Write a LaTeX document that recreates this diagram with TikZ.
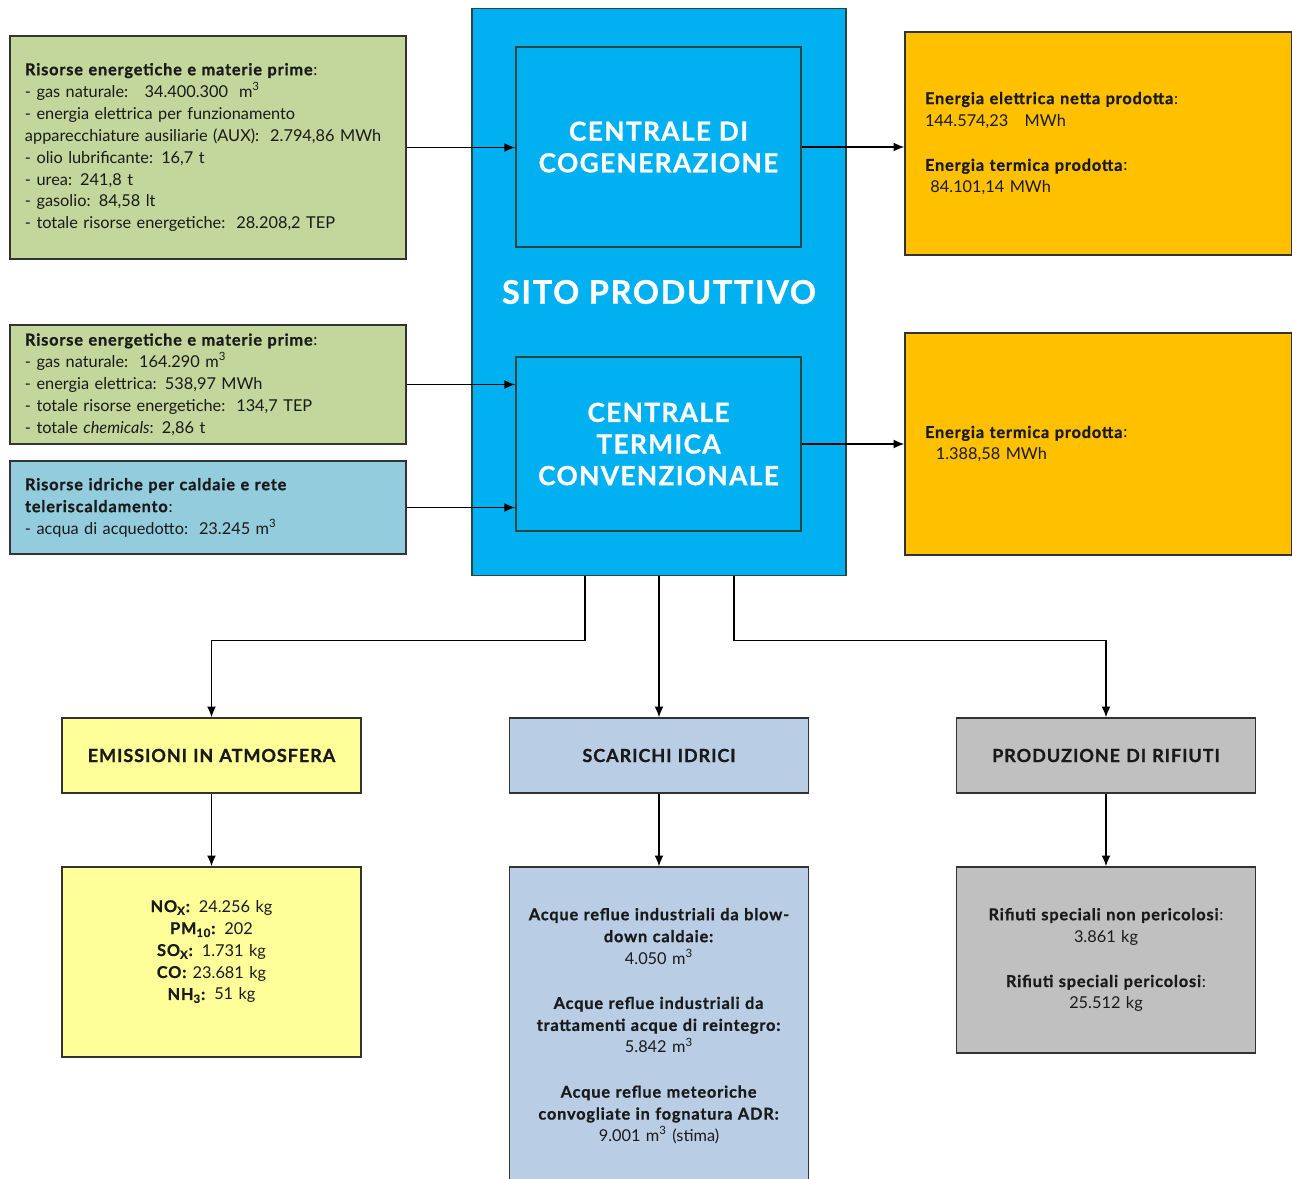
\documentclass[tikz,border=0pt]{standalone}
\usepackage{fontspec}
\setmainfont{Lato}[BoldFeatures={LetterSpace=5,FakeBold=0.8}]
\usetikzlibrary{arrows.meta}
\definecolor{rescolor}{HTML}{C3D69B}
\definecolor{watercolor}{HTML}{93CDDD}
\definecolor{sitocolor}{HTML}{00B0F0}
\definecolor{prodcolor}{HTML}{FFC000}
\definecolor{emicolor}{HTML}{FFFF99}
\definecolor{scarcolor}{HTML}{B9CDE5}
\definecolor{rifcolor}{HTML}{C0C0C0}
\definecolor{linecolor}{HTML}{333333}
\definecolor{sitoline}{HTML}{24483F}
\definecolor{textcolor}{HTML}{1A1A1A}
\newlength\px
\setlength\px{0.02cm}
\newcommand\bodyfont{\fontsize{9.3}{12.5}\selectfont}
\newcommand\mc{m\textsuperscript{3}}

\begin{document}
\begin{tikzpicture}
  [x=0.02cm,y=-0.02cm,>={Latex[length=6.2pt,width=5.1pt]},
   % Styles
   box/.style={draw=linecolor,line width=1.2\px,text=textcolor,inner ysep=0pt,font=\bodyfont},
   res/.style={box,fill=rescolor,align=left,text width=366\px,inner xsep=15\px,minimum height=#1},
   prod/.style={box,fill=prodcolor,align=left,text width=347\px,inner xsep=20\px,minimum height=222\px},
   plant/.style={draw=sitoline,line width=1.6\px,fill=sitocolor,text=white,align=center,
     minimum width=285\px,minimum height=#1,font=\fontsize{15}{18}\selectfont\bfseries},
   head/.style={box,align=center,text width=279\px,inner xsep=10\px,minimum height=75\px,
     font=\fontsize{10.3}{12}\selectfont\bfseries},
   data/.style={box,align=center,text width=279\px,inner xsep=10\px,minimum height=#1},
   flow/.style={->,line width=1.6\px,draw=black}]

  \useasboundingbox (0,0) rectangle (1292,1179);

  % Production site
  \node[draw=sitoline,line width=1.6\px,fill=sitocolor,minimum width=374\px,minimum height=567\px,
    text=white,font=\fontsize{18.5}{20}\selectfont\bfseries] (sito) at (659,292) {SITO PRODUTTIVO};
  \node[plant=200\px] (cogen) at (658.5,147) {CENTRALE DI\\COGENERAZIONE};
  \node[plant=174\px] (term) at (658.5,444) {CENTRALE\\TERMICA\\CONVENZIONALE};

  % Inputs
  \node[res=223\px] (res1) at (208,147.5)
    {\textbf{Risorse energetiche e materie prime}:\\
     - gas naturale:\ \ \ 34.400.300\ \ \mc\\
     - energia elettrica per funzionamento\\
     apparecchiature ausiliarie (AUX):\ \ 2.794,86 MWh\\
     - olio lubrificante: 16,7 t\\
     - urea: 241,8 t\\
     - gasolio: 84,58 lt\\
     - totale risorse energetiche:\ \ 28.208,2 TEP};
  \node[res=119\px] (res2) at (208,384.5)
    {\textbf{Risorse energetiche e materie prime}:\\
     - gas naturale:\ \ 164.290 \mc\\
     - energia elettrica: 538,97 MWh\\
     - totale risorse energetiche:\ \ 134,7 TEP\\
     - totale \textit{chemicals}: 2,86 t};
  \node[res=93\px,fill=watercolor] (water) at (208,507.5)
    {\textbf{Risorse idriche per caldaie e rete}\\
     \textbf{teleriscaldamento}:\\
     - acqua di acquedotto:\ \ 23.245 \mc};

  % Outputs
  \node[prod,minimum height=223\px] (prod1) at (1098.5,143.5)
    {\textbf{Energia elettrica netta prodotta}:\\
     144.574,23\ \ \ MWh\\[13pt]
     \textbf{Energia termica prodotta}:\\
     \ 84.101,14 MWh};
  \node[prod] (prod2) at (1098.5,444)
    {\textbf{Energia termica prodotta}:\\
     \ \ 1.388,58 MWh};

  % Impacts
  \node[head,fill=emicolor] (emi) at (211.5,755.5) {EMISSIONI IN ATMOSFERA};
  \node[head,fill=scarcolor] (scar) at (659,755.5) {SCARICHI IDRICI};
  \node[head,fill=rifcolor] (rif) at (1106,755.5) {PRODUZIONE DI RIFIUTI};

  \node[data=190\px,fill=emicolor] (emidata) at (211.5,962)
    {\textbf{NO\textsubscript{X}:} 24.256 kg\\
     \textbf{PM\textsubscript{10}:} 202\\
     \textbf{SO\textsubscript{X}:} 1.731 kg\\
     \textbf{CO:} 23.681 kg\\
     \textbf{NH\textsubscript{3}:} 51 kg\\[2\px]\mbox{}};
  \node[data=318\px,fill=scarcolor] (scardata) at (659,1026)
    {\textbf{Acque reflue industriali da blow-}\\
     \textbf{down caldaie:}\\
     4.050 \mc\\[13pt]
     \textbf{Acque reflue industriali da}\\
     \textbf{trattamenti acque di reintegro:}\\
     5.842 \mc\\[13pt]
     \textbf{Acque reflue meteoriche}\\
     \textbf{convogliate in fognatura ADR:}\\
     9.001 \mc\ (stima)};
  \node[data=186\px,fill=rifcolor] (rifdata) at (1106,960)
    {\textbf{Rifiuti speciali non pericolosi}:\\
     3.861 kg\\[13pt]
     \textbf{Rifiuti speciali pericolosi}:\\
     25.512 kg};

  % Connectors
  \draw[flow] (res1.east) -- (res1.east -| cogen.west);
  \draw[flow] (res2.east) -- (res2.east -| term.west);
  \draw[flow] (water.east) -- (water.east -| term.west);
  \draw[flow] (cogen.east) -- (cogen.east -| prod1.west);
  \draw[flow] (term.east) -- (term.east -| prod2.west);

  \draw[flow] ([xshift=-74\px]sito.south) -- ++(0,64) -| (emi.north);
  \draw[flow] (sito.south) -- (scar.north);
  \draw[flow] ([xshift=75\px]sito.south) -- ++(0,64) -| (rif.north);

  \draw[flow] (emi.south) -- (emidata.north);
  \draw[flow] (scar.south) -- (scardata.north);
  \draw[flow] (rif.south) -- (rifdata.north);
\end{tikzpicture}
\end{document}
